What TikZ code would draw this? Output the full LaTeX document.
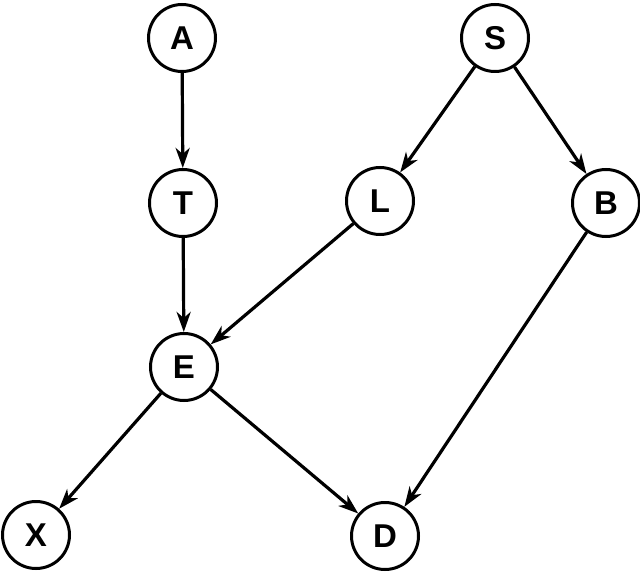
\documentclass[tikz,border=0pt]{standalone}
\usepackage{fontspec}
\setmainfont{Liberation Sans}
\usetikzlibrary{arrows.meta}
\begin{document}
\begin{tikzpicture}[x=1pt,y=-1pt,
  var/.style={circle,draw,line width=3pt,minimum size=67pt,inner sep=0pt,font=\fontsize{33}{33}\selectfont\bfseries},
  edge/.style={line width=3.2pt,-{Stealth[length=20pt,width=14pt,inset=6pt]}}]
\useasboundingbox (0,0) rectangle (640,572);
\node[var] (A) at (182,38) {A};
\node[var] (S) at (495,38) {S};
\node[var] (T) at (183,203) {T};
\node[var] (L) at (380,201) {L};
\node[var] (B) at (606,203) {B};
\node[var] (E) at (184,367) {E};
\node[var] (X) at (36,535) {X};
\node[var] (D) at (385,536) {D};
\draw[edge] (A) -- (T);
\draw[edge] (T) -- (E);
\draw[edge] (S) -- (L);
\draw[edge] (S) -- (B);
\draw[edge] (L) -- (E);
\draw[edge] (B) -- (D);
\draw[edge] (E) -- (X);
\draw[edge] (E) -- (D);
\end{tikzpicture}
\end{document}
